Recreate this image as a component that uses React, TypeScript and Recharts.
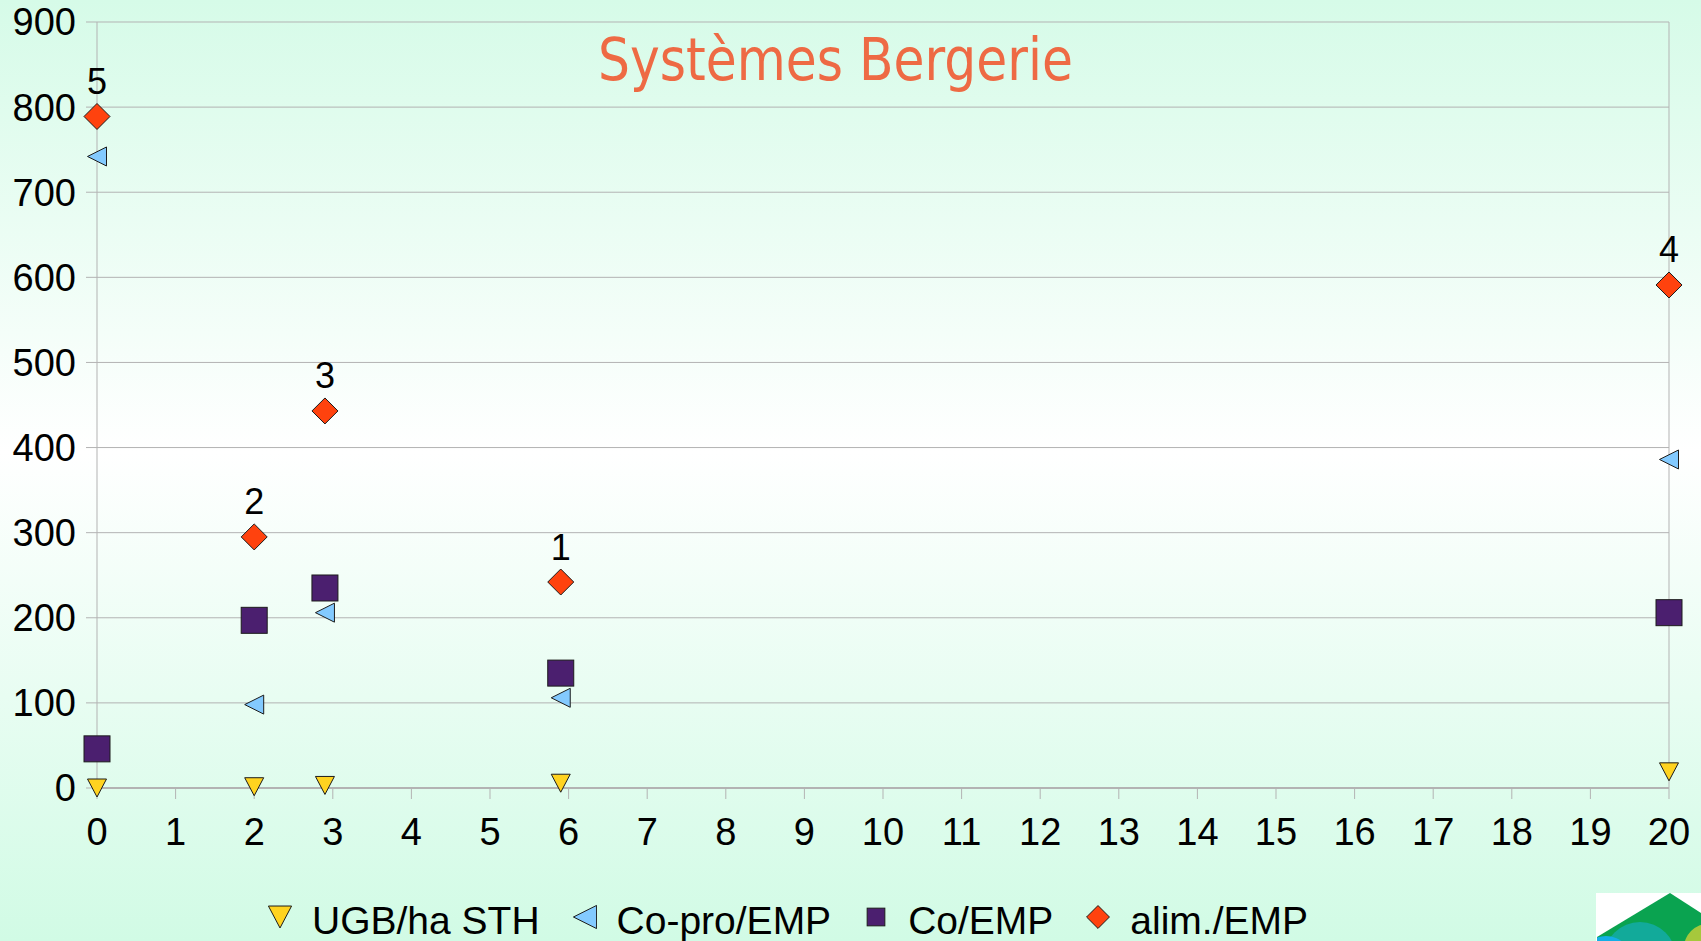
import React from "react";
import {
  ScatterChart,
  Scatter,
  XAxis,
  YAxis,
  CartesianGrid,
  ReferenceLine,
  Legend,
} from "recharts";

const xValues = [0, 2, 2.9, 5.9, 20];
const ugbValues = [0, 1.5, 3, 5.6, 19];
const coproValues = [742, 98, 206, 106, 386];
const coValues = [46, 197, 235, 135, 206];
const alimValues = [789, 295, 443, 242, 591];
const alimLabels = ["5", "2", "3", "1", "4"];

const xTicks = [0, 1, 2, 3, 4, 5, 6, 7, 8, 9, 10, 11, 12, 13, 14, 15, 16, 17, 18, 19, 20];
const yTicks = [0, 100, 200, 300, 400, 500, 600, 700, 800, 900];

const FONT = '"Liberation Sans", Arial, sans-serif';
const GRID = "#b3b3b3";
const EDGE = "#1c1c1c";

type Kind = "down" | "left" | "square" | "diamond";

const SERIES: { name: string; values: number[]; fill: string; kind: Kind }[] = [
  { name: "UGB/ha STH", values: ugbValues, fill: "#ffd320", kind: "down" },
  { name: "Co-pro/EMP", values: coproValues, fill: "#83caff", kind: "left" },
  { name: "Co/EMP", values: coValues, fill: "#4b1f6f", kind: "square" },
  { name: "alim./EMP", values: alimValues, fill: "#ff420e", kind: "diamond" },
];

function toPoints(values: number[], labels?: string[]) {
  return xValues.map((x, i) => ({ x, y: values[i], label: labels ? labels[i] : undefined }));
}

function symbol(kind: Kind, cx: number, cy: number, fill: string, s = 1) {
  if (kind === "down") {
    const w = 9.5 * s, h = 9 * s;
    return <polygon points={`${cx - w},${cy - h} ${cx + w},${cy - h} ${cx},${cy + h}`} fill={fill} stroke={EDGE} strokeWidth={1} />;
  }
  if (kind === "left") {
    const w = 9.5 * s;
    return <polygon points={`${cx - w},${cy} ${cx + w},${cy - w} ${cx + w},${cy + w}`} fill={fill} stroke={EDGE} strokeWidth={1} />;
  }
  if (kind === "square") {
    const h = 13 * s;
    return <rect x={cx - h} y={cy - h} width={h * 2} height={h * 2} fill={fill} stroke={EDGE} strokeWidth={1} />;
  }
  const h = 13 * s;
  return <polygon points={`${cx},${cy - h} ${cx + h},${cy} ${cx},${cy + h} ${cx - h},${cy}`} fill={fill} stroke={EDGE} strokeWidth={1} />;
}

function makeShape(kind: Kind, fill: string) {
  return (props: any) => {
    const { cx, cy, payload } = props;
    return (
      <g>
        {symbol(kind, cx, cy, fill)}
        {payload && payload.label ? (
          <text x={cx} y={cy - 22.5} textAnchor="middle" fontSize={36} fontFamily={FONT} fill="#000">
            {payload.label}
          </text>
        ) : null}
      </g>
    );
  };
}

function LegendContent(props: any) {
  const payload: any[] = (props.payload || []).slice();
  const order = SERIES.map((s) => s.name);
  payload.sort((a, b) => order.indexOf(a.value) - order.indexOf(b.value));
  return (
    <div style={{ display: "flex", alignItems: "center", height: 39, fontFamily: FONT, fontSize: 39, lineHeight: "39px", whiteSpace: "nowrap" }}>
      {payload.map((entry, i) => {
        const s = SERIES.find((d) => d.name === entry.value) || SERIES[i];
        const small = s.kind === "square" ? 0.68 : s.kind === "diamond" ? 0.88 : 1.22;
        return (
          <div key={s.name} style={{ display: "flex", alignItems: "center", marginRight: i < payload.length - 1 ? 33 : 0 }}>
            <svg width={24} height={39} style={{ marginRight: 20 }}>
              {symbol(s.kind, 12, 16, s.fill, small)}
            </svg>
            <span style={{ color: "#000" }}>{s.name}</span>
          </div>
        );
      })}
    </div>
  );
}

export default function App() {
  return (
    <div
      style={{
        position: "absolute",
        top: 0,
        left: 0,
        width: 1701,
        height: 941,
        overflow: "hidden",
        background: "linear-gradient(180deg, #d6fbe8 0%, #ffffff 48%, #d1fbe5 100%)",
      }}
    >
      <ScatterChart width={1701} height={941} margin={{ top: 22, right: 32, bottom: 103, left: 0 }}>
        <CartesianGrid stroke={GRID} vertical={false} />
        <XAxis
          type="number"
          dataKey="x"
          domain={[0, 20]}
          ticks={xTicks}
          interval={0}
          height={50}
          axisLine={{ stroke: GRID, strokeWidth: 2 }}
          tickLine={{ stroke: GRID }}
          tickSize={11}
          tickMargin={19}
          tick={{ fill: "#000", fontSize: 38, fontFamily: FONT }}
        />
        <YAxis
          type="number"
          dataKey="y"
          domain={[0, 900]}
          ticks={yTicks}
          interval={0}
          width={97}
          axisLine={{ stroke: GRID }}
          tickLine={{ stroke: GRID }}
          tickSize={11}
          tickMargin={10}
          tick={{ fill: "#000", fontSize: 38, fontFamily: FONT }}
        />
        <ReferenceLine x={20} stroke={GRID} />
        <Legend
          verticalAlign="middle"
          align="center"
          content={<LegendContent />}
          wrapperStyle={{ top: 901, left: 268, width: "auto", height: 39 }}
        />
        {SERIES.map((s) => (
          <Scatter
            key={s.name}
            name={s.name}
            data={toPoints(s.values, s.kind === "diamond" ? alimLabels : undefined)}
            fill={s.fill}
            shape={makeShape(s.kind, s.fill)}
            isAnimationActive={false}
          />
        ))}
      </ScatterChart>
      <svg width={1701} height={941} style={{ position: "absolute", top: 0, left: 0, pointerEvents: "none" }}>
        <text
          x={598}
          y={80}
          fontSize={59}
          fontFamily='"DejaVu Sans", Verdana, sans-serif'
          fill="#ee6a44"
          textLength={475}
          lengthAdjust="spacingAndGlyphs"
        >
          Systèmes Bergerie
        </text>
        <defs>
          <clipPath id="logoClip">
            <polygon points="1670,893 1701,913 1701,941 1597,941 1597,937" />
          </clipPath>
        </defs>
        <rect x={1596} y={893} width={105} height={48} fill="#ffffff" />
        <g clipPath="url(#logoClip)">
          <rect x={1596} y={893} width={105} height={48} fill="#0aa350" />
          <circle cx={1640} cy={958} r={36} fill="#12aa9a" />
          <circle cx={1606} cy={962} r={26} fill="#14aee6" />
          <circle cx={1708} cy={948} r={24} fill="#a6c83c" />
        </g>
      </svg>
    </div>
  );
}
